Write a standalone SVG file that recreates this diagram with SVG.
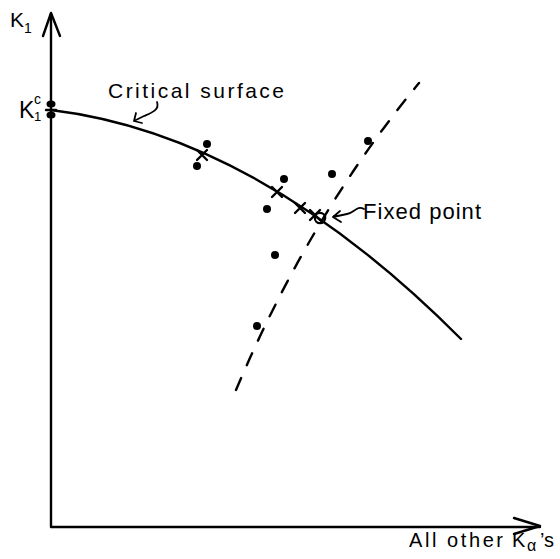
<svg xmlns="http://www.w3.org/2000/svg" width="560" height="559" viewBox="0 0 560 559">
<style>
.ln{fill:none;stroke:#000;stroke-width:2.4;stroke-linecap:round;stroke-linejoin:round}
.th{fill:none;stroke:#000;stroke-width:1.8;stroke-linecap:round;stroke-linejoin:round}
.dot{fill:#000}
.t{font-family:"Liberation Sans","DejaVu Sans",sans-serif;fill:#000}
</style>
<rect width="560" height="559" fill="#fff"/>
<g id="axes">
  <path class="ln" d="M51,14 L51,527 L540,527"/>
  <path class="ln" d="M43,36 L51,13 L60,36"/>
  <path class="ln" d="M514,518 L540,526 L514,534"/>
</g>
<g id="connectors">
  <path id="critical-curve" class="ln" d="M51,110 Q258,135 461,339"/>
  <path id="dashed-line" class="ln" d="M236,390 Q310,215 419,83" stroke-dasharray="13 14"/>
  <path id="critical-arrow" class="th" d="M157,102 C160,110 151,113 144,116 L134,121 M136,113 L134,121 L142,123"/>
  <path id="fixed-arrow" class="th" d="M364,209 C357,205 354,213 347,214 L333,217 M340,211 L333,217 L341,222"/>
</g>
<g id="k1c-marks">
  <ellipse class="dot" cx="51" cy="104" rx="4.5" ry="3.6"/>
  <ellipse class="dot" cx="51" cy="115" rx="4.5" ry="3.6"/>
  <path class="ln" d="M46,110 L56,110"/>
</g>
<g id="crosses">
  <path class="ln" d="M197,150 L207,160 M197,160 L207,150"/>
  <path class="ln" d="M272,187 L282,197 M272,197 L282,187"/>
  <path class="ln" d="M295,203 L305,213 M295,213 L305,203"/>
  <path class="ln" d="M310,210 L320,220 M310,220 L320,210"/>
</g>
<g id="fixed-point">
  <circle cx="320" cy="218" r="5.2" fill="none" stroke="#000" stroke-width="2.2"/>
</g>
<g id="dots">
  <circle class="dot" cx="207" cy="144" r="4"/>
  <circle class="dot" cx="197" cy="166" r="4"/>
  <circle class="dot" cx="284" cy="179" r="4"/>
  <circle class="dot" cx="267" cy="209" r="4"/>
  <circle class="dot" cx="332" cy="174" r="4"/>
  <circle class="dot" cx="368" cy="141" r="4"/>
  <circle class="dot" cx="275" cy="255" r="4"/>
  <circle class="dot" cx="257" cy="326" r="4"/>
</g>
<g id="labels">
  <text class="t" x="10" y="27" font-size="21">K<tspan font-size="14" dy="6">1</tspan></text>
  <text class="t" x="19" y="118" font-size="23">K</text>
  <text class="t" x="34" y="121" font-size="13">1</text>
  <text class="t" x="34" y="104" font-size="14">c</text>
  <text class="t" x="108" y="98" font-size="21" textLength="176" lengthAdjust="spacing">Critical surface</text>
  <text class="t" x="363" y="219" font-size="22" textLength="118" lengthAdjust="spacing">Fixed point</text>
  <text class="t" x="409" y="547" font-size="20" textLength="94" lengthAdjust="spacing">All other</text>
  <text class="t" x="512" y="547" font-size="20">K</text>
  <text class="t" x="527" y="551" font-size="16">α</text>
  <text class="t" x="540" y="547" font-size="20">’s</text>
</g>
</svg>
